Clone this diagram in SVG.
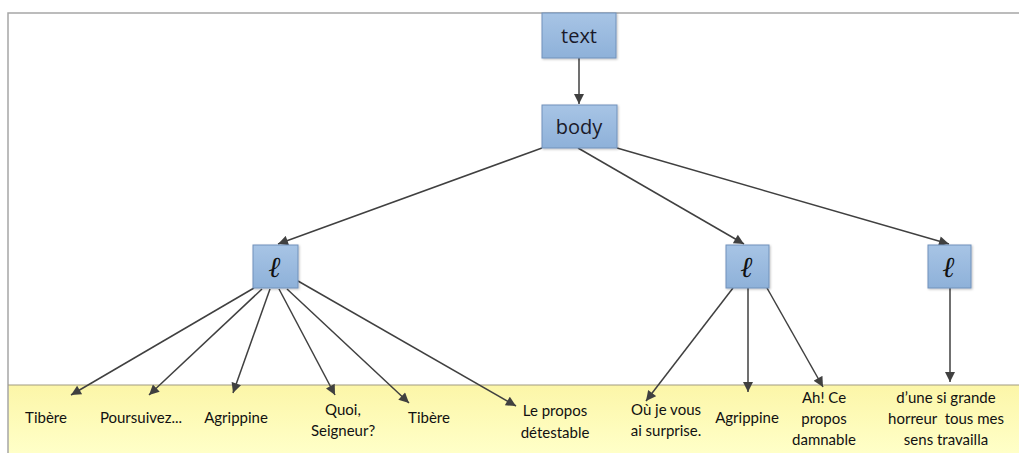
<svg xmlns="http://www.w3.org/2000/svg" width="1019" height="453" viewBox="0 0 1019 453">
  <defs>
    <linearGradient id="nodeFill" x1="0" y1="0" x2="0" y2="1">
      <stop offset="0" stop-color="#a7c4e5"/>
      <stop offset="1" stop-color="#8eb1d9"/>
    </linearGradient>
    <linearGradient id="bandFill" x1="0" y1="0" x2="0" y2="1">
      <stop offset="0" stop-color="#fcf6a8"/>
      <stop offset="1" stop-color="#ffffc8"/>
    </linearGradient>
    <filter id="shadow" x="-20%" y="-20%" width="140%" height="140%">
      <feDropShadow dx="1" dy="1" stdDeviation="1" flood-color="#000" flood-opacity="0.25"/>
    </filter>
    <marker id="arrow" viewBox="0 0 10 10" refX="10" refY="5" markerWidth="11" markerHeight="10" markerUnits="userSpaceOnUse" orient="auto">
      <path d="M0,0 L10,5 L0,10 Z" fill="#404040"/>
    </marker>
  </defs>
  <style>
    .node { fill: url(#nodeFill); stroke: #7092bb; stroke-width: 1; filter: url(#shadow); }
    .ntext { font-family: "Open Sans", "Liberation Sans", sans-serif; font-size: 20px; fill: #1a1a2a; text-anchor: middle; }
    .ell { font-family: "DejaVu Serif", serif; font-style: italic; font-weight: bold; font-size: 29px; fill: #111; text-anchor: middle; }
    .edge { stroke: #404040; stroke-width: 1.5; fill: none; marker-end: url(#arrow); }
    .label { font-family: "Lato", "Liberation Sans", sans-serif; font-size: 15px; fill: #111; text-anchor: middle; }
    .frame { stroke: #a6a6a6; stroke-width: 1.5; fill: none; }
  </style>

  <!-- background and frame -->
  <rect x="0" y="0" width="1019" height="453" fill="#ffffff"/>
  <rect x="8" y="385" width="1011" height="68" fill="url(#bandFill)"/>
  <path class="frame" d="M8,453 V13 H1019"/>
  <line x1="8" y1="385" x2="1019" y2="385" stroke="#a09a80" stroke-width="1"/>

  <!-- connectors -->
  <g id="connectors">
    <line class="edge" x1="579" y1="58" x2="579" y2="104"/>
    <line class="edge" x1="542" y1="148" x2="278" y2="244"/>
    <line class="edge" x1="578" y1="148" x2="744" y2="244"/>
    <line class="edge" x1="617" y1="148" x2="949" y2="244"/>

    <line class="edge" x1="254" y1="288" x2="71" y2="395"/>
    <line class="edge" x1="262" y1="289" x2="149" y2="395"/>
    <line class="edge" x1="270" y1="289" x2="233" y2="393"/>
    <line class="edge" x1="279" y1="289" x2="335" y2="395"/>
    <line class="edge" x1="287" y1="289" x2="409" y2="403"/>
    <line class="edge" x1="298" y1="281" x2="516" y2="406"/>

    <line class="edge" x1="733" y1="288" x2="646" y2="401"/>
    <line class="edge" x1="748" y1="288" x2="748" y2="392"/>
    <line class="edge" x1="767" y1="288" x2="823" y2="387"/>

    <line class="edge" x1="950" y1="288" x2="950" y2="382"/>
  </g>

  <!-- nodes -->
  <g id="node-text">
    <rect class="node" x="542" y="13" width="74" height="45"/>
    <text class="ntext" x="579" y="43">text</text>
  </g>
  <g id="node-body">
    <rect class="node" x="542" y="105" width="75" height="43"/>
    <text class="ntext" x="579" y="134">body</text>
  </g>
  <g id="node-l1">
    <rect class="node" x="253" y="245" width="45" height="43"/>
    <text class="ell" x="275" y="277">ℓ</text>
  </g>
  <g id="node-l2">
    <rect class="node" x="726" y="245" width="43" height="43"/>
    <text class="ell" x="747" y="277">ℓ</text>
  </g>
  <g id="node-l3">
    <rect class="node" x="928" y="245" width="43" height="43"/>
    <text class="ell" x="949" y="277">ℓ</text>
  </g>

  <!-- leaf labels -->
  <g id="leaf-1"><text class="label" x="46" y="423">Tibère</text></g>
  <g id="leaf-2"><text class="label" x="141" y="423">Poursuivez...</text></g>
  <g id="leaf-3"><text class="label" x="236" y="423">Agrippine</text></g>
  <g id="leaf-4"><text class="label" x="343" y="415">Quoi,</text><text class="label" x="343" y="436">Seigneur?</text></g>
  <g id="leaf-5"><text class="label" x="429" y="423">Tibère</text></g>
  <g id="leaf-6"><text class="label" x="555" y="416">Le propos</text><text class="label" x="555" y="438">détestable</text></g>
  <g id="leaf-7"><text class="label" x="666" y="415">Où je vous</text><text class="label" x="666" y="436">ai surprise.</text></g>
  <g id="leaf-8"><text class="label" x="747" y="423">Agrippine</text></g>
  <g id="leaf-9"><text class="label" x="824" y="403">Ah! Ce</text><text class="label" x="824" y="424">propos</text><text class="label" x="824" y="445">damnable</text></g>
  <g id="leaf-10"><text class="label" x="946" y="403">d’une si grande</text><text class="label" x="946" y="424" xml:space="preserve">horreur  tous mes</text><text class="label" x="946" y="445">sens travailla</text></g>
</svg>
